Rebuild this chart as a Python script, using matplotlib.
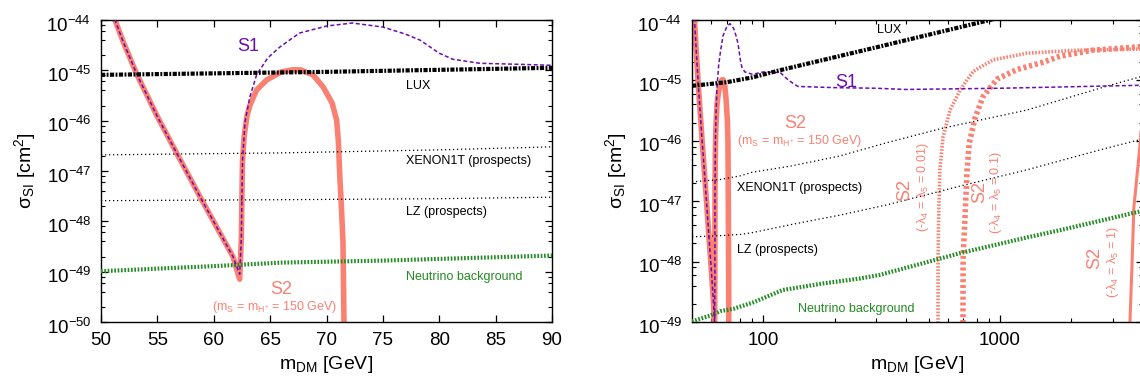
import numpy as np
import matplotlib
matplotlib.use('Agg')
import matplotlib.pyplot as plt
from matplotlib.ticker import (FixedLocator, NullFormatter, FuncFormatter, MultipleLocator,
                               LogFormatterSciNotation)
from matplotlib.transforms import ScaledTranslation

plt.rcParams['font.family'] = ['Liberation Sans', 'DejaVu Sans']
plt.rcParams['mathtext.fontset'] = 'custom'
plt.rcParams['mathtext.rm'] = 'Liberation Sans'
plt.rcParams['mathtext.it'] = 'Liberation Sans:italic'
plt.rcParams['mathtext.bf'] = 'Liberation Sans:bold'

# m_DM in GeV, cross sections as log10(sigma_SI / cm^2)
lux_m = [50, 70, 90, 118, 302, 906, 1500]
lux_s = [-45.09, -45.03, -44.95, -44.83, -44.45, -44.0, -43.75]

xenon_m = [50, 66, 80, 90, 130, 211, 333, 574, 1300, 2911, 4000]
xenon_s = [-46.68, -46.64, -46.58, -46.52, -46.42, -46.25, -46.03, -45.79, -45.49, -45.08, -44.93]

lz_m = [50, 66, 80, 90, 130, 211, 333, 678, 1300, 2826, 4000]
lz_s = [-47.59, -47.57, -47.55, -47.52, -47.39, -47.23, -47.06, -46.75, -46.48, -46.12, -45.97]

nu_m = [50, 60, 66, 75, 90, 121, 180, 256, 311, 678, 1300, 1791, 4000]
nu_s = [-48.99, -48.89, -48.82, -48.78, -48.68, -48.47, -48.36, -48.28, -48.22, -47.86, -47.60, -47.48, -47.16]

# S1 (dashed purple)
s1_m = [50.8, 51.24, 52.0, 53.2, 55.0, 56.7, 58.8, 60.3, 61.7, 62.3, 62.45, 62.5, 62.55, 62.77,
        63.2, 63.8, 64.8, 65.9, 67.6, 70.0, 72.3, 75.0, 77.0, 78.3, 80.0, 81.2, 83.6, 87.0, 90.0,
        100, 118, 128, 140, 200, 300, 400, 1000, 4000]
s1_s = [-43.75, -44.0, -44.45, -45.09, -45.92, -46.64, -47.52, -48.13, -48.7, -49.05, -48.3, -47.5,
        -46.8, -46.03, -45.53, -45.09, -44.75, -44.53, -44.26, -44.12, -44.06, -44.14, -44.28, -44.4,
        -44.66, -44.78, -44.86, -44.88, -44.9, -44.86, -44.87, -45.0, -45.1, -45.12, -45.13, -45.15,
        -45.13, -45.08]

# S2 with m_S = m_H+ = 150 GeV (thick salmon)
s2_m = [50.8, 51.24, 52.0, 53.2, 55.0, 56.7, 58.8, 60.3, 61.7, 62.3, 62.45, 62.5, 62.55, 62.7,
        62.95, 63.2, 63.8, 64.7, 66.0, 67.0, 67.7, 68.8, 69.7, 70.5, 70.9, 71.05, 71.2, 71.3, 71.46,
        71.55, 71.6]
s2_s = [-43.75, -44.0, -44.45, -45.09, -45.92, -46.64, -47.52, -48.13, -48.7, -49.15, -48.3, -47.5,
        -46.8, -46.3, -45.9, -45.7, -45.39, -45.19, -45.03, -44.99, -44.99, -45.09, -45.33, -45.65,
        -45.99, -46.4, -47.2, -47.6, -48.4, -50.0, -50.5]

# S2 with -lambda4 = lambda5 = 0.01, 0.1, 1
s2a_m = [547, 547.5, 550, 557, 574, 615, 678, 770, 934, 1300, 2113, 4000]
s2a_s = [-49.5, -48.0, -47.3, -46.48, -45.94, -45.49, -45.16, -44.85, -44.66, -44.55, -44.50, -44.48]

s2b_m = [697, 698, 726, 741, 783, 847, 970, 1180, 1516, 1791, 2466, 4000]
s2b_s = [-49.5, -47.97, -46.48, -46.04, -45.63, -45.27, -44.98, -44.82, -44.70, -44.60, -44.50, -44.44]

s2c_m = [3520, 3537, 3605, 3675, 3783, 3895, 4000]
s2c_s = [-49.5, -49.0, -48.1, -47.1, -46.6, -46.1, -45.5]

salmon = '#fa8072'
purple = '#6a0dad'
green = '#228b22'


def draw(ax):
    ax.plot(s2_m, 10.0 ** np.array(s2_s), color=salmon, lw=4.0, solid_capstyle='butt', zorder=2)
    ax.plot(s1_m, 10.0 ** np.array(s1_s), color=purple, lw=1.1, ls=(0, (2.6, 1.6)), zorder=4)
    ax.plot(xenon_m, 10.0 ** np.array(xenon_s), color='black', lw=0.9, ls=(0, (1, 2.2)), zorder=3)
    ax.plot(lz_m, 10.0 ** np.array(lz_s), color='black', lw=0.9, ls=(0, (1, 2.2)), zorder=3)
    ax.plot(nu_m, 10.0 ** np.array(nu_s), color=green, lw=3.0, ls=(0, (0.4, 0.4)), zorder=3)
    ax.plot(lux_m, 10.0 ** np.array(lux_s), color='black', lw=3.0,
            ls=(0, (1.0, 0.35, 0.45, 0.35)), zorder=5)


def style(ax, lo, hi):
    ax.set_yscale('log')
    ax.set_ylim(10.0 ** lo, 10.0 ** hi)
    ax.tick_params(which='both', direction='in', top=True, right=True, labelsize=13.5, pad=7)
    ax.tick_params(which='major', length=5, width=0.9)
    ax.tick_params(which='minor', length=3, width=0.8)
    decades = np.arange(lo, hi + 1)
    ax.yaxis.set_major_locator(FixedLocator(10.0 ** decades))
    ax.yaxis.set_major_formatter(LogFormatterSciNotation())
    ax.yaxis.set_minor_locator(FixedLocator([s * 10.0 ** d for d in decades[:-1] for s in (2, 4, 6, 8)]))
    ax.yaxis.set_minor_formatter(NullFormatter())
    for sp in ax.spines.values():
        sp.set_linewidth(1.0)
    ax.set_xlabel(r'm$_\mathrm{DM}$ [GeV]', fontsize=14, labelpad=4)
    ax.set_ylabel(r'σ$_\mathrm{SI}$ [cm$^2$]', fontsize=14, labelpad=6)


def lower_ylabels(ax):
    # gnuplot sets the "10" of each label a bit below the tick
    shift = ScaledTranslation(0, -2.5 / 72, fig.dpi_scale_trans)
    for t in ax.yaxis.get_major_ticks():
        t.label1.set_transform(t.label1.get_transform() + shift)


fig = plt.figure(figsize=(11.4, 3.81), dpi=100)
ax1 = fig.add_axes([101 / 1140, 59 / 381, 451 / 1140, 302 / 381])
ax2 = fig.add_axes([692 / 1140, 59 / 381, 450.6 / 1140, 302 / 381])

# left panel
draw(ax1)
style(ax1, -50, -44)
ax1.set_xlim(50, 90)
ax1.xaxis.set_major_locator(MultipleLocator(5))

ax1.text(63.04, 10 ** -44.52, 'S1', color=purple, fontsize=13, ha='center', va='center')
ax1.text(77.05, 10 ** -45.31, 'LUX', fontsize=9, ha='left', va='center')
ax1.text(77.05, 10 ** -46.80, 'XENON1T (prospects)', fontsize=9, ha='left', va='center')
ax1.text(77.05, 10 ** -47.81, 'LZ (prospects)', fontsize=9, ha='left', va='center')
ax1.text(77.05, 10 ** -49.11, 'Neutrino background', color=green, fontsize=9, ha='left', va='center')
ax1.text(65.96, 10 ** -49.36, 'S2', color=salmon, fontsize=13, ha='center', va='center')
ax1.text(65.43, 10 ** -49.70, r'(m$_\mathrm{S}$ = m$_{\mathrm{H}^{+}}$ = 150 GeV)', color=salmon,
         fontsize=9, ha='center', va='center')

# right panel
ax2.plot(s2a_m, 10.0 ** np.array(s2a_s), color=salmon, lw=2.6, ls=(0, (0.45, 0.45)), zorder=2)
ax2.plot(s2b_m, 10.0 ** np.array(s2b_s), color=salmon, lw=4.0, ls=(0, (0.55, 0.5)), zorder=2)
ax2.plot(s2c_m, 10.0 ** np.array(s2c_s), color=salmon, lw=2.2, zorder=2)
draw(ax2)
style(ax2, -49, -44)
ax2.set_xscale('log')
ax2.set_xlim(50, 4000)
ax2.xaxis.set_major_locator(FixedLocator([100, 1000]))
ax2.xaxis.set_minor_locator(FixedLocator([60, 70, 80, 90] + [s * 100 for s in range(2, 10)] + [2000, 3000]))
ax2.xaxis.set_major_formatter(FuncFormatter(lambda v, p: f'{v:g}'))
ax2.xaxis.set_minor_formatter(NullFormatter())

ax2.text(224, 10 ** -45.03, 'S1', color=purple, fontsize=13, ha='center', va='center')
ax2.text(136.5, 10 ** -45.71, 'S2', color=salmon, fontsize=13, ha='center', va='center')
ax2.text(143, 10 ** -46.0, r'(m$_\mathrm{S}$ = m$_{\mathrm{H}^{+}}$ = 150 GeV)', color=salmon,
         fontsize=9, ha='center', va='center')
ax2.text(302.5, 10 ** -44.17, 'LUX', fontsize=9, ha='left', va='center')
ax2.text(77.7, 10 ** -46.78, 'XENON1T (prospects)', fontsize=9, ha='left', va='center')
ax2.text(77.7, 10 ** -47.81, 'LZ (prospects)', fontsize=9, ha='left', va='center')
ax2.text(140.5, 10 ** -48.78, 'Neutrino background', color=green, fontsize=9, ha='left', va='center')

ax2.text(397, 10 ** -46.81, 'S2', color=salmon, fontsize=13, rotation=90, ha='center', va='center')
ax2.text(473, 10 ** -46.77, '(-λ$_4$ = λ$_5$ = 0.01)', color=salmon, fontsize=9, rotation=90,
         ha='center', va='center')
ax2.text(820, 10 ** -46.85, 'S2', color=salmon, fontsize=13, rotation=90, ha='center', va='center')
ax2.text(960, 10 ** -46.85, '(-λ$_4$ = λ$_5$ = 0.1)', color=salmon, fontsize=9, rotation=90,
         ha='center', va='center')
ax2.text(2518, 10 ** -47.94, 'S2', color=salmon, fontsize=13, rotation=90, ha='center', va='center')
ax2.text(3000, 10 ** -48.0, '(-λ$_4$ = λ$_5$ = 1)', color=salmon, fontsize=9, rotation=90,
         ha='center', va='center')

lower_ylabels(ax1)
lower_ylabels(ax2)

fig.savefig('out.png', dpi=100)
